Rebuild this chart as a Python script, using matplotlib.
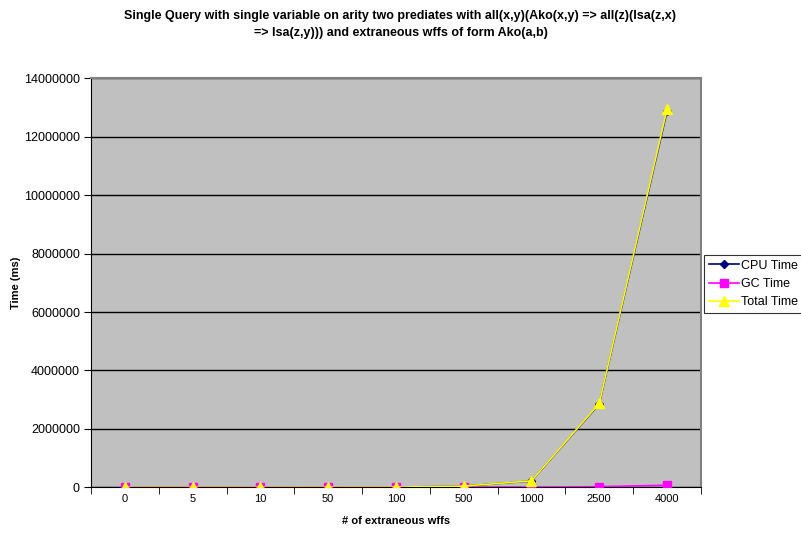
import numpy as np
import matplotlib.pyplot as plt

plt.rcParams['font.family'] = ['Liberation Sans', 'DejaVu Sans']

# extraneous wff counts and measured times (ms)
wffs = ['0', '5', '10', '50', '100', '500', '1000', '2500', '4000']
cpu_time = [200, 400, 600, 2000, 5000, 38000, 215000, 2850000, 12870000]
gc_time = [0, 0, 0, 0, 0, 2000, 5000, 20000, 70000]
total_time = [200, 400, 600, 2000, 5000, 40000, 220000, 2870000, 12940000]

x = np.arange(len(wffs))

fig = plt.figure(figsize=(8.01, 5.35), dpi=100)
ax = fig.add_axes([0.1136, 0.0892, 0.7614, 0.7644])
ax.set_facecolor('#C0C0C0')

ax.plot(x, cpu_time, color='#000080', marker='D', markersize=4.5, lw=1.2, label='CPU Time', zorder=3)
ax.plot(x, gc_time, color='#FF00FF', marker='s', markersize=6, lw=1.2, label='GC Time', zorder=4)
ax.plot(x, total_time, color='#FFFF00', marker='^', markersize=6.5, lw=1.2, label='Total Time', zorder=5)

ax.set_xlim(-0.5, len(wffs) - 0.5)
ax.set_ylim(0, 14000000)
ax.set_yticks(np.arange(0, 14000001, 2000000))
ax.set_yticklabels([str(v) for v in range(0, 14000001, 2000000)], fontsize=9)
ax.yaxis.grid(True, color='black', lw=1)
ax.set_axisbelow(True)

# category labels centred, tick marks between categories
ax.set_xticks(x)
ax.set_xticklabels(wffs, fontsize=8)
ax.tick_params(axis='x', which='major', length=0, pad=5)
ax.set_xticks(np.arange(-0.5, len(wffs)), minor=True)
ax.tick_params(axis='x', which='minor', length=5, direction='out', color='black')
ax.tick_params(axis='y', length=5, direction='out', color='black', pad=3)

for side in ['top', 'right']:
    ax.spines[side].set_color('#808080')
    ax.spines[side].set_linewidth(1.5)
for side in ['left', 'bottom']:
    ax.spines[side].set_color('black')

ax.set_xlabel('# of extraneous wffs', fontsize=8, fontweight='bold')
ax.xaxis.set_label_coords(0.5, -0.071)
ax.set_ylabel('Time (ms)', fontsize=8, fontweight='bold')
ax.yaxis.set_label_coords(-0.1145, 0.5)

fig.suptitle('Single Query with single variable on arity two prediates with all(x,y)(Ako(x,y) => all(z)(Isa(z,x)\n'
             '=> Isa(z,y))) and extraneous wffs of form Ako(a,b)',
             fontsize=9, fontweight='bold', y=0.982, linespacing=1.65)

leg = ax.legend(loc='center left', bbox_to_anchor=(1.005, 0.497), fontsize=9, frameon=True,
                fancybox=False, edgecolor='black', handlelength=2.4, borderpad=0.4,
                labelspacing=0.5, handletextpad=0.15, borderaxespad=0)
leg.get_frame().set_linewidth(0.8)

fig.savefig('out.png', dpi=100, facecolor='white')
